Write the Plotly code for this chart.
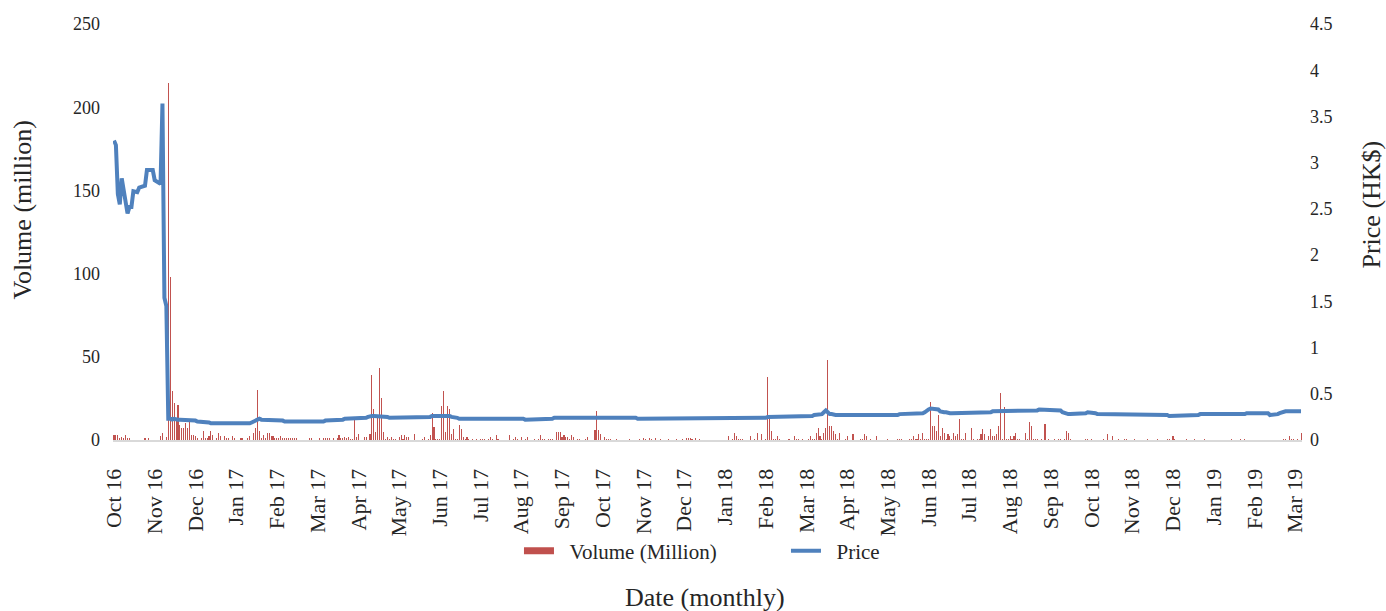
import plotly.graph_objects as go
import pandas as pd

# ---- data (one row per 21-trading-day label interval) ----
month_labels = ["Oct 16", "Nov 16", "Dec 16", "Jan 17", "Feb 17", "Mar 17", "Apr 17", "May 17",
                "Jun 17", "Jul 17", "Aug 17", "Sep 17", "Oct 17", "Nov 17", "Dec 17", "Jan 18",
                "Feb 18", "Mar 18", "Apr 18", "May 18", "Jun 18", "Jul 18", "Aug 18", "Sep 18",
                "Oct 18", "Nov 18", "Dec 18", "Jan 19", "Feb 19", "Mar 19"]

volume = [
    3, 3, 3, 1.5, 2, 1, 3, 1, 1, 0, 0, 0, 0, 0, 0, 0, 1, 0, 1, 0, 0,
    0, 0, 0, 2.5, 4, 0, 2, 214.7, 98, 29.4, 22.4, 12.4, 21, 9, 7.4, 7.4, 10.4, 7.4, 12.4, 3, 3,
    2.5, 1, 0, 1, 5.4, 1, 1, 2.5, 5.4, 3, 0, 1, 4, 2.5, 0, 2.5, 1.5, 1, 0, 2.5, 1,
    0, 0, 1, 1, 0, 0, 1.5, 2.5, 0, 4, 7.4, 30, 5.4, 1.5, 3, 1.5, 4, 4, 2.5, 2.5, 1.5,
    1.5, 1.5, 2.5, 1, 1, 1, 1, 1, 1, 1, 1.5, 0, 0, 0, 0, 0, 0, 1, 1, 0, 0,
    0, 1, 0, 1, 1, 1, 1.5, 0, 1, 0, 1, 3, 1, 1, 2, 1, 2, 0.6, 0.6, 14, 2,
    3.7, 0, 0, 2, 2, 0, 3.7, 39, 18.5, 5, 13.4, 43.3, 25.4, 5, 0.6, 2, 0.6, 2, 0.6, 0.6, 0,
    2, 3, 0.6, 3, 2, 2, 0, 0, 3.7, 0, 0, 0, 0.6, 2, 0, 0.6, 3, 16, 8, 0.6, 0.6,
    0.6, 20.4, 29.7, 5, 20.4, 18.5, 3.7, 6.8, 0.6, 0.6, 9.3, 6.8, 2, 0.6, 2, 0.6, 0, 0.6, 0, 0.6, 0,
    0.6, 0.6, 0.6, 0, 0.6, 2, 0.6, 0, 3, 0.6, 0, 0, 0, 0, 0, 3, 0, 0.6, 2, 0.6, 0,
    2, 0, 0.6, 2, 0, 0, 0, 0.6, 0, 0.6, 3, 0.6, 0.6, 0, 0.6, 0.6, 0.6, 0, 5, 5, 5,
    2, 3, 2, 2, 0.6, 3, 2, 0, 0.6, 0.6, 0, 0, 0.6, 2, 0, 0, 0, 6.2, 17.3, 6.2, 3.7,
    0, 2, 0.6, 0.6, 0.6, 0, 0, 0.6, 0, 0, 0, 0, 0, 0, 0.6, 0, 0, 0, 0, 0.6, 0,
    1, 0.6, 0, 1, 0.6, 0, 1, 0, 0, 0.6, 0, 0, 0, 0.6, 0, 0, 0, 0.6, 0, 0, 0.6,
    0, 1, 1, 1, 0.6, 0, 1, 0, 0.6, 0, 0, 0, 0, 0, 0, 0, 0, 0, 0, 0, 0,
    0, 0, 2.3, 0, 0.6, 4.2, 2.3, 0.6, 0.6, 0.6, 0, 0, 0, 2.3, 0, 0.6, 0, 4.2, 0, 3.6, 0,
    0.6, 38, 13.1, 5.5, 0.6, 0.6, 2.3, 0.6, 0, 0, 0, 0, 0.6, 0, 0, 2.3, 0.6, 0.6, 0, 0.6, 0,
    0, 0.6, 2.3, 0.6, 0.6, 4.2, 7.4, 2.3, 0.6, 4.2, 7.4, 48, 8.7, 8.7, 5.5, 3.6, 0.6, 4.2, 0, 0, 0.6,
    2.3, 0, 0, 3.6, 0, 0, 0, 0.6, 0.6, 3.6, 2.3, 0, 0.6, 0, 0, 2.3, 0, 0, 0, 0, 0,
    0.6, 0, 0, 0, 0, 0.6, 0.6, 0.6, 0, 0, 0, 0.6, 0.6, 2.3, 0.6, 0.6, 3.6, 0.6, 4.2, 0.6, 0.6,
    0.6, 23, 8.7, 8.7, 5.5, 15, 2.3, 7.4, 4.2, 0.6, 3.6, 2.3, 0.6, 4.2, 2.3, 3.6, 12.6, 0.6, 0.6, 4.2, 0,
    0, 7.4, 0.6, 0, 0.6, 0.6, 3.6, 6.8, 3.6, 0, 2.3, 6.8, 2.3, 2.3, 3.6, 8.7, 28, 0.6, 20, 0.6, 0.6,
    2.3, 0.6, 2.3, 4.2, 0.6, 0.6, 0, 0, 4.2, 0.6, 10.6, 8.7, 0.6, 0.6, 0.6, 0, 0.6, 0, 9.9, 0, 0.6,
    0, 0, 0.6, 0, 0.6, 0.6, 0, 0.6, 5.5, 4.2, 0.6, 0, 0, 0, 0, 0, 0, 0, 0.6, 0.6, 0,
    0.6, 0, 0, 0, 0, 0, 0.6, 0, 3.6, 0, 0, 2.3, 0, 0, 0.6, 0, 0, 0.6, 0.6, 0, 0,
    0, 0.6, 0, 0, 0, 0, 0, 0, 0.6, 0, 0, 0, 0, 0.6, 0, 0, 0, 0, 0.6, 0.6, 0,
    2.3, 0.6, 0, 0, 0, 0, 0, 0.6, 0, 0, 0, 0.6, 0, 0, 0, 0, 0.6, 0, 0, 0, 0,
    0, 0, 0, 0, 0, 0, 0, 0, 0, 0.6, 0, 0, 0, 0, 0.6, 0, 0.6, 0, 0, 0, 0,
    0, 0, 0, 0, 0, 0, 0, 0, 0, 0, 0, 0, 0, 0, 0, 0.6, 0.6, 0, 2.3, 0.6, 0.6,
    0, 0.6, 0, 4.2,
]

price = [
    3.24, 3.19, 2.66, 2.55, 2.83, 2.68, 2.56, 2.45, 2.52, 2.52, 2.69, 2.69, 2.68, 2.73, 2.74, 2.74, 2.75, 2.92, 2.92, 2.92, 2.92,
    2.81, 2.80, 2.79, 2.77, 3.64, 1.54, 1.45, 0.23, 0.23, 0.22, 0.23, 0.22, 0.22, 0.22, 0.22, 0.21, 0.22, 0.21, 0.21, 0.21, 0.21,
    0.21, 0.20, 0.20, 0.20, 0.20, 0.20, 0.19, 0.19, 0.18, 0.18, 0.17, 0.17, 0.17, 0.17, 0.18, 0.18, 0.18, 0.18, 0.18, 0.18, 0.18,
    0.18, 0.18, 0.18, 0.18, 0.18, 0.17, 0.18, 0.18, 0.19, 0.20, 0.22, 0.23, 0.23, 0.22, 0.22, 0.22, 0.22, 0.21, 0.21, 0.21, 0.21,
    0.21, 0.21, 0.21, 0.21, 0.20, 0.20, 0.20, 0.20, 0.20, 0.20, 0.20, 0.20, 0.20, 0.20, 0.19, 0.19, 0.20, 0.19, 0.19, 0.20, 0.20,
    0.20, 0.20, 0.20, 0.20, 0.21, 0.21, 0.21, 0.21, 0.22, 0.22, 0.22, 0.22, 0.22, 0.22, 0.23, 0.23, 0.23, 0.23, 0.24, 0.24, 0.24,
    0.24, 0.24, 0.24, 0.23, 0.24, 0.25, 0.26, 0.26, 0.26, 0.26, 0.25, 0.25, 0.25, 0.25, 0.25, 0.25, 0.24, 0.24, 0.24, 0.24, 0.24,
    0.24, 0.24, 0.24, 0.24, 0.24, 0.24, 0.24, 0.24, 0.24, 0.24, 0.24, 0.24, 0.24, 0.24, 0.24, 0.24, 0.25, 0.26, 0.26, 0.26, 0.26,
    0.27, 0.27, 0.27, 0.27, 0.27, 0.26, 0.25, 0.25, 0.24, 0.24, 0.23, 0.23, 0.23, 0.24, 0.24, 0.24, 0.24, 0.24, 0.24, 0.24, 0.24,
    0.24, 0.24, 0.23, 0.23, 0.23, 0.23, 0.23, 0.23, 0.23, 0.23, 0.23, 0.23, 0.23, 0.23, 0.23, 0.23, 0.23, 0.23, 0.23, 0.23, 0.23,
    0.23, 0.23, 0.22, 0.22, 0.22, 0.22, 0.22, 0.22, 0.22, 0.22, 0.22, 0.22, 0.22, 0.22, 0.23, 0.23, 0.23, 0.24, 0.24, 0.24, 0.24,
    0.24, 0.24, 0.24, 0.24, 0.24, 0.24, 0.24, 0.24, 0.24, 0.24, 0.24, 0.24, 0.24, 0.24, 0.24, 0.24, 0.25, 0.25, 0.25, 0.25, 0.25,
    0.25, 0.24, 0.24, 0.24, 0.24, 0.24, 0.24, 0.24, 0.24, 0.24, 0.24, 0.24, 0.24, 0.24, 0.24, 0.24, 0.24, 0.24, 0.23, 0.23, 0.23,
    0.23, 0.23, 0.23, 0.23, 0.23, 0.23, 0.23, 0.23, 0.23, 0.23, 0.23, 0.23, 0.23, 0.23, 0.23, 0.23, 0.23, 0.23, 0.23, 0.24, 0.24,
    0.24, 0.24, 0.24, 0.24, 0.24, 0.24, 0.24, 0.24, 0.24, 0.24, 0.24, 0.24, 0.24, 0.24, 0.24, 0.24, 0.24, 0.24, 0.24, 0.24, 0.24,
    0.24, 0.24, 0.24, 0.24, 0.24, 0.24, 0.24, 0.24, 0.24, 0.24, 0.24, 0.24, 0.24, 0.24, 0.24, 0.24, 0.24, 0.24, 0.24, 0.24, 0.24,
    0.24, 0.25, 0.25, 0.25, 0.25, 0.25, 0.25, 0.25, 0.25, 0.25, 0.25, 0.25, 0.25, 0.25, 0.26, 0.26, 0.26, 0.26, 0.26, 0.26, 0.26,
    0.26, 0.26, 0.26, 0.26, 0.27, 0.27, 0.27, 0.27, 0.28, 0.30, 0.32, 0.30, 0.28, 0.28, 0.27, 0.27, 0.27, 0.27, 0.27, 0.27, 0.27,
    0.27, 0.27, 0.27, 0.27, 0.27, 0.27, 0.27, 0.27, 0.27, 0.27, 0.27, 0.27, 0.26, 0.26, 0.27, 0.27, 0.26, 0.26, 0.26, 0.26, 0.26,
    0.26, 0.26, 0.26, 0.27, 0.27, 0.27, 0.28, 0.28, 0.28, 0.28, 0.29, 0.29, 0.28, 0.28, 0.28, 0.28, 0.28, 0.28, 0.29, 0.30, 0.32,
    0.33, 0.34, 0.34, 0.34, 0.34, 0.33, 0.31, 0.30, 0.30, 0.30, 0.29, 0.29, 0.29, 0.29, 0.29, 0.29, 0.29, 0.29, 0.29, 0.30, 0.30,
    0.30, 0.30, 0.30, 0.30, 0.30, 0.30, 0.30, 0.30, 0.30, 0.30, 0.30, 0.30, 0.31, 0.31, 0.31, 0.32, 0.32, 0.32, 0.31, 0.31, 0.31,
    0.31, 0.31, 0.31, 0.31, 0.31, 0.31, 0.31, 0.31, 0.31, 0.31, 0.31, 0.32, 0.32, 0.32, 0.32, 0.33, 0.33, 0.33, 0.33, 0.33, 0.33,
    0.33, 0.33, 0.33, 0.33, 0.33, 0.32, 0.30, 0.29, 0.28, 0.28, 0.28, 0.28, 0.28, 0.28, 0.28, 0.29, 0.29, 0.29, 0.29, 0.30, 0.30,
    0.30, 0.29, 0.29, 0.28, 0.28, 0.28, 0.28, 0.28, 0.28, 0.28, 0.28, 0.28, 0.28, 0.28, 0.28, 0.28, 0.28, 0.28, 0.28, 0.28, 0.28,
    0.28, 0.28, 0.28, 0.28, 0.28, 0.28, 0.28, 0.28, 0.28, 0.28, 0.28, 0.27, 0.27, 0.27, 0.27, 0.27, 0.27, 0.27, 0.27, 0.26, 0.26,
    0.26, 0.27, 0.27, 0.27, 0.27, 0.27, 0.27, 0.27, 0.27, 0.27, 0.27, 0.27, 0.27, 0.27, 0.28, 0.28, 0.28, 0.27, 0.27, 0.27, 0.27,
    0.27, 0.27, 0.27, 0.27, 0.27, 0.27, 0.27, 0.27, 0.27, 0.27, 0.28, 0.28, 0.28, 0.28, 0.28, 0.28, 0.28, 0.29, 0.29, 0.30, 0.30,
    0.30, 0.30, 0.30, 0.30, 0.30, 0.30, 0.30, 0.29, 0.27, 0.27, 0.27, 0.28, 0.28, 0.29, 0.30, 0.30, 0.31, 0.31, 0.31, 0.31, 0.31,
    0.31, 0.31, 0.31, 0.31,
]

RED = "#C0504D"
RED_BAR = "rgba(192,80,77,0.99)"
BLUE = "#4F81BD"
FONT = "Liberation Serif"
TXT = "#262626"
NBSP = "\u00a0"

n = min(len(volume), len(price))
trade_days = pd.bdate_range("2016-09-30", periods=n).strftime("%Y-%m-%d").tolist()
tick_days = trade_days[::21][:len(month_labels)]

fig = go.Figure()
fig.add_trace(go.Bar(x=trade_days, y=volume[:n], marker=dict(color=RED_BAR, line=dict(width=0)),
                     width=0.55, name="Volume (Million)", showlegend=False))
fig.add_trace(go.Scatter(x=[None], y=[None], mode="lines", line=dict(color=RED, width=7),
                         name=NBSP * 2 + "Volume (Million)"))
fig.add_trace(go.Scatter(x=trade_days, y=price[:n], yaxis="y2", mode="lines",
                         line=dict(color=BLUE, width=4), name=NBSP * 2 + "Price"))

fig.update_layout(
    width=1386, height=611,
    margin=dict(l=113, r=84, t=24, b=171),
    paper_bgcolor="white", plot_bgcolor="white",
    font=dict(family=FONT, color=TXT),
    bargap=0,
    xaxis=dict(type="category", categoryorder="array", categoryarray=trade_days,
               tickmode="array", tickvals=tick_days, ticktext=month_labels,
               tickangle=-90, tickfont=dict(size=22, family=FONT, color=TXT),
               showgrid=False, zeroline=False, showline=True, linecolor="#D9D9D9", linewidth=2,
               ticks="", ticklabelstandoff=18, range=[-0.5, n - 0.5], automargin=False),
    yaxis=dict(range=[0, 250], dtick=50, tickfont=dict(size=18, family=FONT, color=TXT),
               showgrid=False, zeroline=False, showline=False, ticks="",
               ticklabelstandoff=12, automargin=False),
    yaxis2=dict(range=[0, 4.5], dtick=0.5, overlaying="y", side="right",
                tickfont=dict(size=18, family=FONT, color=TXT),
                showgrid=False, zeroline=False, showline=False, ticks="",
                ticklabelstandoff=7, automargin=False),
    legend=dict(orientation="h", x=0.566, xanchor="center", y=-0.267, yanchor="middle",
                font=dict(size=21, family=FONT, color=TXT), bgcolor="rgba(0,0,0,0)",
                entrywidth=222),
    annotations=[
        dict(text="Volume (million)", xref="paper", yref="paper", x=-0.0757, y=0.554,
             xanchor="center", yanchor="middle", textangle=-90, showarrow=False,
             font=dict(size=26, family=FONT, color=TXT)),
        dict(text="Price (HK$)", xref="paper", yref="paper", x=1.0585, y=0.565,
             xanchor="center", yanchor="middle", textangle=-90, showarrow=False,
             font=dict(size=26, family=FONT, color=TXT)),
        dict(text="Date (monthly)", xref="paper", yref="paper", x=0.498, y=-0.378,
             xanchor="center", yanchor="middle", showarrow=False,
             font=dict(size=26, family=FONT, color=TXT)),
    ],
)

fig.write_html("out.html", config={"displayModeBar": False},
               post_script="document.body.style.margin='0';document.body.style.overflow='hidden';")
